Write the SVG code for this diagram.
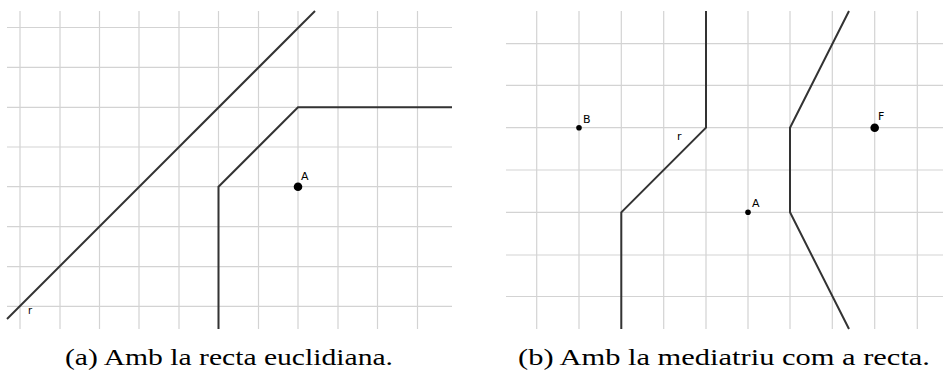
<svg xmlns="http://www.w3.org/2000/svg" width="944" height="374" viewBox="0 0 944 374">
<style>
.grid{stroke:#d3d3d3;stroke-width:1.2;fill:none}
.curve{stroke:#333;stroke-width:2;fill:none;stroke-linejoin:miter}
.lbl{font-family:"DejaVu Sans","Liberation Sans",sans-serif;font-size:11px;fill:#000}
.cap{font-family:"Liberation Serif",serif;font-size:23px;fill:#000}
</style>
<rect width="944" height="374" fill="#fff"/>
<g id="panel-a">
<g id="grid-a" class="grid">
<path d="M20,11V329M60,11V329M99.5,11V329M139,11V329M179,11V329M218.5,11V329M258.5,11V329M298,11V329M338,11V329M377.5,11V329M417.5,11V329"/>
<path d="M7,27.5H452M7,67.3H452M7,107.3H452M7,147H452M7,186.7H452M7,226.7H452M7,266.7H452M7,306.3H452"/>
</g>
<g id="connectors-a">
<path class="curve" d="M7,319 L315,11"/>
<path class="curve" d="M218.5,329 V186.7 L298,107.3 H452"/>
</g>
<g id="point-A-a"><circle cx="298" cy="186.7" r="4.3" fill="#000"/><text class="lbl" x="301" y="180">A</text></g>
<g id="label-r-a"><text class="lbl" x="28" y="314" style="font-size:10px">r</text></g>
<text class="cap" x="65" y="365" textLength="328" lengthAdjust="spacingAndGlyphs">(a) Amb la recta euclidiana.</text>
</g>
<g id="panel-b">
<g id="grid-b" class="grid">
<path d="M536.7,11V329M579,11V329M621.3,11V329M663.7,11V329M706,11V329M748,11V329M790,11V329M832.3,11V329M874.7,11V329M917.3,11V329"/>
<path d="M506,43.7H943M506,85.3H943M506,127.7H943M506,170H943M506,212.3H943M506,255H943M506,296.5H943"/>
</g>
<g id="connectors-b">
<path class="curve" d="M706,11 V127.7 L621.3,212.3 V329"/>
<path class="curve" d="M849,11 L790,127.7 V212.3 L849,329"/>
</g>
<g id="point-B"><circle cx="579" cy="127.7" r="2.8" fill="#000"/><text class="lbl" x="583" y="123">B</text></g>
<g id="point-A-b"><circle cx="748" cy="212.3" r="2.8" fill="#000"/><text class="lbl" x="752" y="207">A</text></g>
<g id="point-F"><circle cx="874.7" cy="127.7" r="4.3" fill="#000"/><text class="lbl" x="878" y="120">F</text></g>
<g id="label-r-b"><text class="lbl" x="677" y="140">r</text></g>
<text class="cap" x="518" y="365" textLength="412" lengthAdjust="spacingAndGlyphs">(b) Amb la mediatriu com a recta.</text>
</g>
</svg>
